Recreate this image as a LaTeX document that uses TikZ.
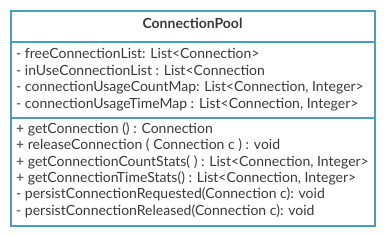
\documentclass[tikz,border=0pt]{standalone}
\usepackage{fontspec}
\setmainfont{Lato}
\definecolor{umlblue}{HTML}{4A9CC6}
\definecolor{umltext}{HTML}{3A3A3A}
\begin{document}
\begin{tikzpicture}[x=1pt,y=-1pt,
  rowtext/.style={anchor=base west,inner sep=0pt,text=umltext,font=\fontsize{14}{16}\selectfont},
  frame/.style={draw=umlblue,line width=2pt}]
\useasboundingbox (0,0) rectangle (385,235);
\fill[white] (0,0) rectangle (385,235);
\draw[frame] (10.5,11) rectangle (375,226);
\draw[frame] (10.5,42) -- (375,42);
\draw[frame] (10.5,118) -- (375,118);
\node[anchor=base,inner sep=0pt,text=umltext,font=\fontsize{14}{16}\bfseries\selectfont] (title) at (192.5,28.5) {ConnectionPool};
\node[rowtext] (a1) at (16,59) {- freeConnectionList: List<Connection>};
\node[rowtext] (a2) at (16,76) {- inUseConnectionList : List<Connection};
\node[rowtext] (a3) at (16,92) {- connectionUsageCountMap: List<Connection, Integer>};
\node[rowtext] (a4) at (16,108.5) {- connectionUsageTimeMap : List<Connection, Integer>};
\node[rowtext] (m1) at (16,133) {+ getConnection () : Connection};
\node[rowtext] (m2) at (16,149.5) {+ releaseConnection ( Connection c ) : void};
\node[rowtext] (m3) at (16,166) {+ getConnectionCountStats( ) : List<Connection, Integer>};
\node[rowtext] (m4) at (16,182) {+ getConnectionTimeStats() : List<Connection, Integer>};
\node[rowtext] (m5) at (16,198.5) {- persistConnectionRequested(Connection c): void};
\node[rowtext] (m6) at (16,215) {- persistConnectionReleased(Connection c): void};
\end{tikzpicture}
\end{document}
